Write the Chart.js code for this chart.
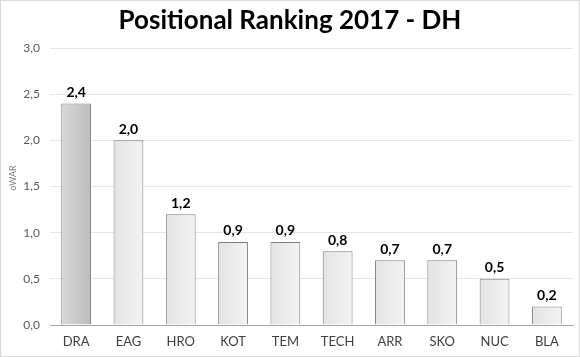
<!DOCTYPE html>
<html><head><meta charset="utf-8">
<script src="https://cdn.jsdelivr.net/npm/chart.js@4/dist/chart.umd.min.js"></script>
<style>html,body{margin:0;padding:0;background:#fff;}#wrap{width:580px;height:357px;}</style>
</head><body><div id="wrap"><canvas id="c" width="580" height="357"></canvas></div>
<script>
const categories = ["DRA","EAG","HRO","KOT","TEM","TECH","ARR","SKO","NUC","BLA"];
const owar = [2.4, 2.0, 1.2, 0.9, 0.9, 0.8, 0.7, 0.7, 0.5, 0.2];
const yTicks = [0, 0.5, 1.0, 1.5, 2.0, 2.5, 3.0];
const titleText = "Positional Ranking 2017 - DH";
const yTitle = "oWAR";

const FONT = "Lato, 'Open Sans', sans-serif";
const fmt = v => v.toFixed(1).replace('.', ',');
const CAT_PCT = 1.0, BAR_PCT = 0.57;

function barGradient(ctx) {
  const chart = ctx.chart;
  const xs = chart.scales.x;
  const fallback = ctx.dataIndex === 0 ? '#c8c8c8' : '#ececec';
  if (!xs || ctx.dataIndex === undefined) return fallback;
  const cx = xs.getPixelForValue(ctx.dataIndex);
  const w = (xs.width / categories.length) * CAT_PCT * BAR_PCT;
  if (!isFinite(cx) || !isFinite(w) || w <= 0) return fallback;
  const g = chart.ctx.createLinearGradient(cx - w / 2, 0, cx + w / 2, 0);
  if (ctx.dataIndex === 0) {
    g.addColorStop(0, '#d8d8d8');
    g.addColorStop(1, '#bcbcbc');
  } else {
    g.addColorStop(0, '#e3e3e3');
    g.addColorStop(1, '#f3f3f3');
  }
  return g;
}

const deco = {
  id: 'deco',
  beforeDraw(chart) {
    const c = chart.ctx;
    c.save();
    c.fillStyle = '#fff';
    c.fillRect(0, 0, chart.width, chart.height);
    c.strokeStyle = '#d9d9d9';
    c.lineWidth = 1;
    c.strokeRect(0.5, 0.5, chart.width - 1, chart.height - 1);
    c.fillStyle = '#000';
    c.font = "bold 26px " + FONT;
    c.textAlign = 'center';
    c.textBaseline = 'middle';
    c.fillText(titleText, 290, 21);
    c.save();
    c.translate(13, 178);
    c.rotate(-Math.PI / 2);
    c.font = "9px " + FONT;
    c.fillStyle = '#7f7f7f';
    c.fillText(yTitle, 0, 0);
    c.restore();
    c.restore();
  },
  afterDatasetsDraw(chart) {
    const c = chart.ctx;
    const meta = chart.getDatasetMeta(0);
    c.save();
    c.font = "bold 14px " + FONT;
    c.fillStyle = '#000';
    c.textAlign = 'center';
    c.textBaseline = 'bottom';
    meta.data.forEach((el, i) => {
      c.fillText(fmt(owar[i]), el.x, el.y - 4);
    });
    c.restore();
  }
};

new Chart(document.getElementById('c'), {
  type: 'bar',
  data: {
    labels: categories,
    datasets: [{
      data: owar,
      backgroundColor: barGradient,
      borderColor: '#7f7f7f',
      borderWidth: 1,
      borderSkipped: 'bottom',
      categoryPercentage: CAT_PCT,
      barPercentage: BAR_PCT
    }]
  },
  options: {
    responsive: false,
    animation: false,
    devicePixelRatio: 1,
    layout: { padding: { top: 48, right: 7, left: 0, bottom: 0 } },
    plugins: { legend: { display: false }, tooltip: { enabled: false }, title: { display: false } },
    scales: {
      x: {
        grid: { display: false, drawTicks: false },
        border: { color: '#a6a6a6', width: 1 },
        ticks: { color: '#404040', font: { family: FONT, size: 13 }, padding: 9 },
        afterFit(s) { s.height = 32; }
      },
      y: {
        min: 0, max: 3,
        afterBuildTicks(s) { s.ticks = yTicks.map(v => ({ value: v })); },
        grid: { color: '#e6e6e6', drawTicks: false },
        border: { display: false },
        ticks: { color: '#595959', font: { family: FONT, size: 12 }, padding: 10, callback: v => fmt(v) },
        afterFit(s) { s.width = 50; }
      }
    }
  },
  plugins: [deco]
});
</script></body></html>
